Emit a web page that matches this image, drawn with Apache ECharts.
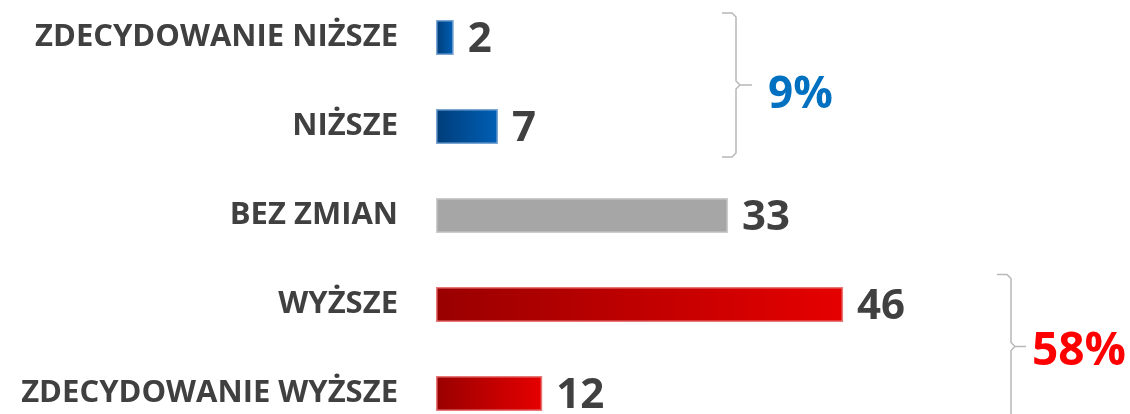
<!DOCTYPE html>
<html>
<head>
<meta charset="utf-8">
<script src="https://cdn.jsdelivr.net/npm/echarts@6/dist/echarts.min.js"></script>
<style>
  html, body { margin: 0; padding: 0; background: #fff; }
  #chart { width: 1130px; height: 414px; }
</style>
</head>
<body>
<div id="chart"></div>
<script>
const categories = ['ZDECYDOWANIE NIŻSZE', 'NIŻSZE', 'BEZ ZMIAN', 'WYŻSZE', 'ZDECYDOWANIE WYŻSZE']
const values = [2, 7, 33, 46, 12]
const groupLabels = ['9%', '58%']

const textColor = '#404040'

const grad = (from, to) => new echarts.graphic.LinearGradient(0, 0, 1, 0, [
  { offset: 0, color: from },
  { offset: 1, color: to }
])

const barStyles = [
  { color: grad('#003d7a', '#005fb5'), borderColor: '#7aa6d4' },
  { color: grad('#003d7a', '#005fb5'), borderColor: '#7aa6d4' },
  { color: '#a6a6a6', borderColor: '#cccccc' },
  { color: grad('#990000', '#e60000'), borderColor: '#e87878' },
  { color: grad('#990000', '#e60000'), borderColor: '#e87878' }
]

const myChart = echarts.init(document.getElementById('chart'))

const options = {
  animation: false,
  grid: { left: 436, top: -7, width: 708, height: 445, containLabel: false, outerBoundsMode: 'none' },
  xAxis: {
    type: 'value',
    min: 0,
    max: 80,
    show: false
  },
  yAxis: {
    type: 'category',
    inverse: true,
    data: categories,
    axisLine: { show: false },
    axisTick: { show: false },
    axisLabel: {
      margin: 38,
      color: textColor,
      fontFamily: 'Open Sans',
      fontWeight: 'bold',
      fontSize: 31
    }
  },
  series: [
    {
      type: 'bar',
      barWidth: 35,
      data: values.map((v, i) => ({
        value: v,
        itemStyle: { ...barStyles[i], borderWidth: 1.5 }
      })),
      label: {
        show: true,
        position: 'right',
        distance: 14,
        offset: [0, 3],
        color: textColor,
        fontFamily: 'Open Sans',
        fontWeight: 'bold',
        fontSize: 42
      }
    }
  ]
}

myChart.setOption(options)

// braces grouping rows 0-1 and 3-4
const rowY = i => myChart.convertToPixel({ yAxisIndex: 0 }, i)
const brace = (x, top, bottom, tipX) => {
  const mid = (top + bottom) / 2
  return {
    type: 'polyline',
    shape: {
      points: [
        [x - 14, top], [x - 4, top], [x, top + 4], [x, mid - 4], [x + 4, mid], [tipX, mid],
        [x + 4, mid], [x, mid + 4], [x, bottom - 4], [x - 4, bottom], [x - 14, bottom]
      ]
    },
    style: { stroke: '#b8b8b8', lineWidth: 1.5, fill: null }
  }
}

const top1 = rowY(0) - 24.5
const bot1 = rowY(1) + 30.5
const top2 = rowY(3) - 30
const bot2 = rowY(4) + 25

myChart.setOption({
  graphic: [
    brace(736, top1, bot1, 752),
    brace(1011, top2, bot2, 1026),
    {
      type: 'text',
      left: 768,
      top: (top1 + bot1) / 2 - 12,
      style: {
        text: groupLabels[0],
        fill: '#0070c0',
        font: 'bold 44px "Open Sans"'
      }
    },
    {
      type: 'text',
      left: 1032,
      top: (top2 + bot2) / 2 - 18,
      style: {
        text: groupLabels[1],
        fill: '#ff0000',
        font: 'bold 46px "Open Sans"'
      }
    }
  ]
})

window.addEventListener('resize', () => {
  myChart.resize()
})
</script>
</body>
</html>
